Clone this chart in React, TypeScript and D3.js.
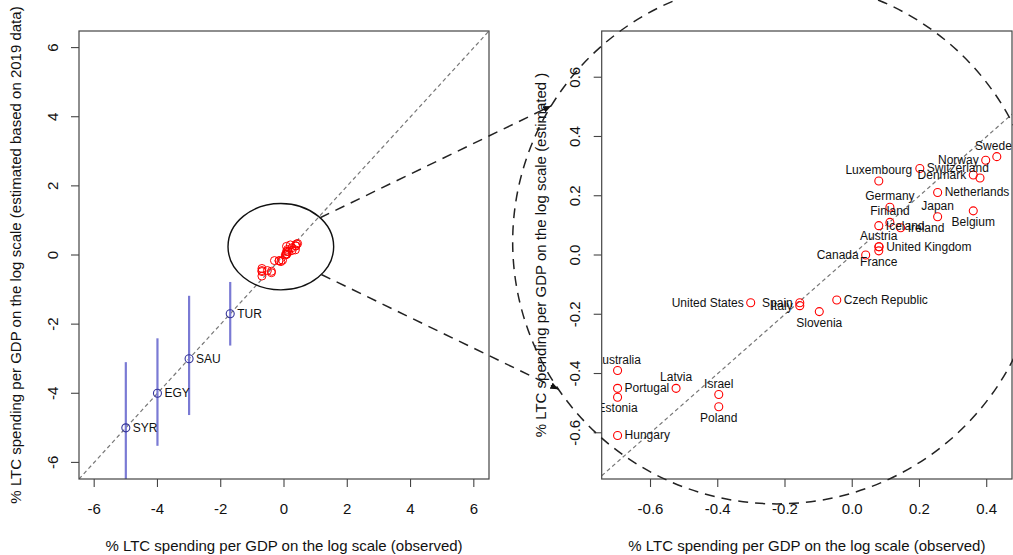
import React from 'react';
import * as d3 from 'd3';

// ---------- data ----------
const countries = [
  'Sweden', 'Norway', 'Denmark', 'Switzerland', 'Luxembourg', 'Netherlands',
  'Germany', 'Japan', 'Belgium', 'Finland', 'Iceland', 'Ireland', 'Austria',
  'United Kingdom', 'France', 'Canada', 'United States', 'Spain', 'Italy',
  'Czech Republic', 'Slovenia', 'Australia', 'Portugal', 'Estonia', 'Hungary',
  'Latvia', 'Israel', 'Poland',
];
const observed = [
  0.43, 0.397, 0.36, 0.201, 0.079, 0.254,
  0.112, 0.254, 0.36, 0.112, 0.079, 0.144, 0.079,
  0.08, 0.079, 0.04, -0.302, -0.156, -0.156,
  -0.046, -0.098, -0.698, -0.698, -0.698, -0.698,
  -0.524, -0.397, -0.397,
];
const estimated = [
  0.332, 0.32, 0.27, 0.292, 0.25, 0.211,
  0.161, 0.129, 0.149, 0.11, 0.099, 0.092, 0.028,
  0.028, 0.014, 0.0, -0.161, -0.161, -0.171,
  -0.152, -0.191, -0.39, -0.45, -0.48, -0.609,
  -0.45, -0.471, -0.512,
];
// R-style text position codes: 1 below, 2 left, 3 above, 4 right
const labelPos = [
  3, 2, 2, 4, 3, 4,
  3, 3, 1, 3, 4, 4, 3,
  4, 1, 2, 2, 2, 2,
  4, 1, 3, 4, 1, 4,
  3, 3, 1,
];
const extraObserved = [0.38];
const extraEstimated = [0.26];

const arabCodes = ['SYR', 'EGY', 'SAU', 'TUR'];
const arabObserved = [-5, -4, -3, -1.7];
const arabEstimated = [-5, -4, -3, -1.7];
const arabLower = [-6.6, -5.52, -4.63, -2.62];
const arabUpper = [-3.1, -2.41, -1.18, -0.78];

const leftTicks = [-6, -4, -2, 0, 2, 4, 6];
const rightXTicks = [-0.6, -0.4, -0.2, 0, 0.2, 0.4];
const rightYTicks = [-0.6, -0.4, -0.2, 0, 0.2, 0.4, 0.6];
const leftLim: [number, number] = [-6, 6];
const rightXLim: [number, number] = [-0.7, 0.43];
const rightYLim: [number, number] = [-0.7, 0.7];

const xTitle = '% LTC spending per GDP on the log scale (observed)';
const yTitleLeft = '% LTC spending per GDP on the log scale (estimated based on 2019 data)';
const yTitleRight = '% LTC spending per GDP on the log scale (estimated )';

// zoom annotation (in each panel's data units)
const zoomSmall = { cx: -0.1, cy: 0.24, rx: 1.67, ry: 1.25 };
const zoomBig = { cx: -0.224, cy: 0.044, rx: 0.786, ry: 0.884 };
const arrowStartDeg = [-42, 40];
const arrowEndDeg = [-148.7, 145.8];

// ---------- layout ----------
const W = 1013;
const H = 555;
const L = { x0: 79, x1: 489, y0: 31, y1: 479 };
const R = { x0: 601.7, x1: 1012, y0: 31, y1: 479 };
const FONT = '"Liberation Sans", Arial, Helvetica, sans-serif';

const expand = (lim: [number, number]): [number, number] => {
  const d = (lim[1] - lim[0]) * 0.04;
  return [lim[0] - d, lim[1] + d];
};

const xL = d3.scaleLinear().domain(expand(leftLim)).range([L.x0, L.x1]);
const yL = d3.scaleLinear().domain(expand(leftLim)).range([L.y1, L.y0]);
const xR = d3.scaleLinear().domain(expand(rightXLim)).range([R.x0, R.x1]);
const yR = d3.scaleLinear().domain(expand(rightYLim)).range([R.y1, R.y0]);

const BOX = '#444';

function Axes({ box, xs, ys, xticks, yticks, fmt, ytitle, ytitleX }: any) {
  const tl = 8;
  return (
    <g>
      <rect x={box.x0} y={box.y0} width={box.x1 - box.x0} height={box.y1 - box.y0}
        fill="none" stroke={BOX} strokeWidth={1.2} />
      {xticks.map((t: number) => (
        <g key={'x' + t}>
          <line x1={xs(t)} x2={xs(t)} y1={box.y1} y2={box.y1 + tl} stroke={BOX} strokeWidth={1.1} />
          <text x={xs(t)} y={box.y1 + 29} textAnchor="middle" dominantBaseline="central"
            fontSize={15} fill="#111">{fmt(t)}</text>
        </g>
      ))}
      {yticks.map((t: number) => (
        <g key={'y' + t}>
          <line x1={box.x0 - tl} x2={box.x0} y1={ys(t)} y2={ys(t)} stroke={BOX} strokeWidth={1.1} />
          <text transform={`translate(${box.x0 - 27},${ys(t)}) rotate(-90)`} textAnchor="middle"
            dominantBaseline="central" fontSize={15} fill="#111">{fmt(t)}</text>
        </g>
      ))}
      <text x={(box.x0 + box.x1) / 2} y={545} textAnchor="middle" dominantBaseline="central"
        fontSize={15} fill="#111">{xTitle}</text>
      <text transform={`translate(${ytitleX},${(box.y0 + box.y1) / 2}) rotate(-90)`}
        textAnchor="middle" dominantBaseline="central" fontSize={15} fill="#111">{ytitle}</text>
    </g>
  );
}

function labelProps(px: number, py: number, pos: number) {
  if (pos === 1) return { x: px, y: py + 11, textAnchor: 'middle' };
  if (pos === 2) return { x: px - 7, y: py, textAnchor: 'end' };
  if (pos === 3) return { x: px, y: py - 11, textAnchor: 'middle' };
  return { x: px + 7, y: py, textAnchor: 'start' };
}

export default function App() {
  React.useEffect(() => {
    document.body.style.margin = '0';
  }, []);

  const fmtInt = (v: number) => d3.format('d')(v).replace('−', '-');
  const fmt1 = (v: number) => d3.format('.1f')(v).replace('−', '-');

  // small ellipse in pixel space
  const sCx = xL(zoomSmall.cx), sCy = yL(zoomSmall.cy);
  const sRx = xL(zoomSmall.cx + zoomSmall.rx) - sCx;
  const sRy = sCy - yL(zoomSmall.cy + zoomSmall.ry);
  const bCx = xR(zoomBig.cx), bCy = yR(zoomBig.cy);
  const bRx = xR(zoomBig.cx + zoomBig.rx) - bCx;
  const bRy = bCy - yR(zoomBig.cy + zoomBig.ry);
  const rad = (d: number) => (d * Math.PI) / 180;

  const arrows = arrowStartDeg.map((a, i) => {
    const b = arrowEndDeg[i];
    return {
      x1: sCx + sRx * Math.cos(rad(a)), y1: sCy + sRy * Math.sin(rad(a)),
      x2: bCx + bRx * Math.cos(rad(b)), y2: bCy + bRy * Math.sin(rad(b)),
    };
  });

  const lDom = expand(leftLim);
  const rDom = expand(rightXLim);

  return (
    <svg width={W} height={H} style={{ display: 'block', position: 'absolute', left: 0, top: 0 }}
      fontFamily={FONT}>
      <defs>
        <clipPath id="clipL"><rect x={L.x0} y={L.y0} width={L.x1 - L.x0} height={L.y1 - L.y0} /></clipPath>
        <clipPath id="clipR"><rect x={R.x0} y={R.y0} width={R.x1 - R.x0} height={R.y1 - R.y0} /></clipPath>
        <marker id="ah" markerUnits="userSpaceOnUse" markerWidth={9} markerHeight={7}
          refX={8} refY={3.5} orient="auto">
          <path d="M0,0 L8,3.5 L0,7 Z" fill="#111" />
        </marker>
      </defs>
      <rect width={W} height={H} fill="#fff" />

      {/* ---------- left panel ---------- */}
      <g clipPath="url(#clipL)">
        <line x1={xL(lDom[0])} y1={yL(lDom[0])} x2={xL(lDom[1])} y2={yL(lDom[1])}
          stroke="#777" strokeWidth={1.2} strokeDasharray="4,3" />
        {arabCodes.map((c, i) => (
          <line key={c} x1={xL(arabObserved[i])} x2={xL(arabObserved[i])}
            y1={yL(arabLower[i])} y2={yL(arabUpper[i])} stroke="#7a7ad4" strokeWidth={2.2} />
        ))}
        {countries.map((c, i) => (
          <circle key={c} cx={xL(observed[i])} cy={yL(estimated[i])} r={4}
            fill="none" stroke="#ff0000" strokeWidth={1} />
        ))}
        {extraObserved.map((v, i) => (
          <circle key={'e' + i} cx={xL(v)} cy={yL(extraEstimated[i])} r={4}
            fill="none" stroke="#ff0000" strokeWidth={1} />
        ))}
        {arabCodes.map((c, i) => (
          <circle key={'p' + c} cx={xL(arabObserved[i])} cy={yL(arabEstimated[i])} r={4}
            fill="none" stroke="#333399" strokeWidth={1.1} />
        ))}
      </g>
      {arabCodes.map((c, i) => (
        <text key={'t' + c} x={xL(arabObserved[i]) + 7} y={yL(arabEstimated[i])}
          dominantBaseline="central" fontSize={12} fill="#111">{c}</text>
      ))}
      <ellipse cx={sCx} cy={sCy} rx={sRx} ry={sRy} fill="none" stroke="#111" strokeWidth={1.4} />
      <Axes box={L} xs={xL} ys={yL} xticks={leftTicks} yticks={leftTicks} fmt={fmtInt}
        ytitle={yTitleLeft} ytitleX={15} />

      {/* ---------- right panel ---------- */}
      <g clipPath="url(#clipR)">
        <line x1={xR(rDom[0])} y1={yR(rDom[0])} x2={xR(rDom[1])} y2={yR(rDom[1])}
          stroke="#777" strokeWidth={1.2} strokeDasharray="4,3" />
        {countries.map((c, i) => (
          <circle key={c} cx={xR(observed[i])} cy={yR(estimated[i])} r={4}
            fill="none" stroke="#ff0000" strokeWidth={1.1} />
        ))}
        {extraObserved.map((v, i) => (
          <circle key={'e' + i} cx={xR(v)} cy={yR(extraEstimated[i])} r={4}
            fill="none" stroke="#ff0000" strokeWidth={1.1} />
        ))}
        {countries.map((c, i) => {
          const p = labelProps(xR(observed[i]), yR(estimated[i]), labelPos[i]);
          return (
            <text key={'l' + c} x={p.x} y={p.y} textAnchor={p.textAnchor as any}
              dominantBaseline="central" fontSize={12} fill="#111">{c}</text>
          );
        })}
      </g>
      <Axes box={R} xs={xR} ys={yR} xticks={rightXTicks} yticks={rightYTicks} fmt={fmt1}
        ytitle={yTitleRight} ytitleX={540} />

      {/* ---------- zoom annotation ---------- */}
      <ellipse cx={bCx} cy={bCy} rx={bRx} ry={bRy} fill="none" stroke="#222"
        strokeWidth={1.5} strokeDasharray="10,7" />
      {arrows.map((a, i) => (
        <line key={'a' + i} x1={a.x1} y1={a.y1} x2={a.x2} y2={a.y2} stroke="#222"
          strokeWidth={1.5} strokeDasharray="10,7" markerEnd="url(#ah)" />
      ))}
    </svg>
  );
}
